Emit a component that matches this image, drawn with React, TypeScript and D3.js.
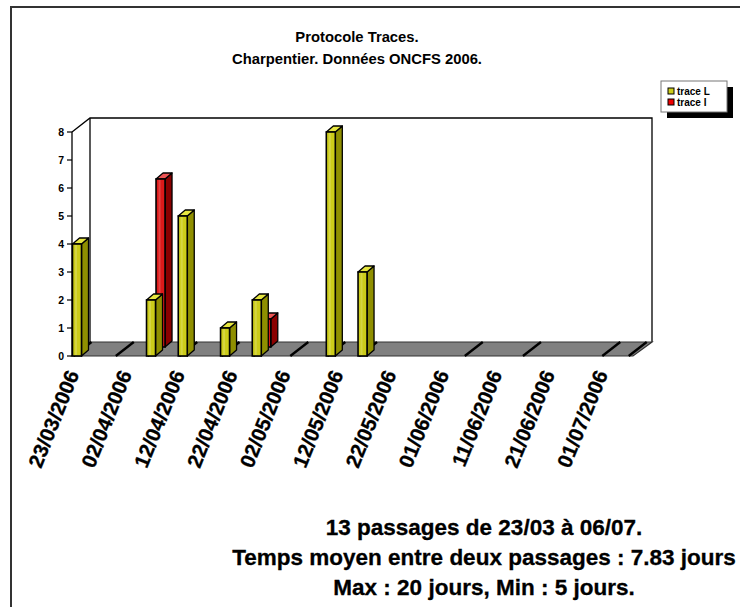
import React from "react";
import * as d3 from "d3";

const passageDates = ["2006-03-23","2006-03-31","2006-04-06","2006-04-12","2006-04-20","2006-04-26","2006-05-03","2006-05-10","2006-05-16","2006-06-05","2006-06-16","2006-07-01","2006-07-06"];
const traceL = [4, 0, 2, 5, 1, 2, 0, 8, 3, 0, 0, 0, 0];
const traceI = [0, 0, 6, 0, 0, 1, 0, 0, 0, 0, 0, 0, 0];
const tickDates = ["23/03/2006","02/04/2006","12/04/2006","22/04/2006","02/05/2006","12/05/2006","22/05/2006","01/06/2006","11/06/2006","21/06/2006","01/07/2006"];
const yTicks = [0, 1, 2, 3, 4, 5, 6, 7, 8];
const seriesNames = ["trace L", "trace I"];
const titleLines = ["Protocole Traces.", "Charpentier. Données ONCFS 2006."];
const footerLines = ["13 passages de 23/03 à 06/07.", "Temps moyen entre deux passages : 7.83 jours", "Max : 20 jours, Min : 5 jours."];

const parse = d3.timeParse("%Y-%m-%d");
const parseTick = d3.timeParse("%d/%m/%Y");

const FONT = "'Liberation Sans', Arial, Helvetica, sans-serif";
const YEL = "#cccc1a", YEL_SIDE = "#8f8f00", YEL_TOP = "#e6e640";
const RED = "#dd1a1a", RED_SIDE = "#8a0000", RED_TOP = "#ee5555";

export default function App() {
  const x = d3.scaleTime().domain([parse("2006-03-23")!, parse("2006-07-07")!]).range([72.5, 633]);
  const y = d3.scaleLinear().domain([0, 8]).range([356, 132]);
  const DX = 18, DY = -14; // floor depth
  const bw = 9; // bar width
  const bdx = 7, bdy = -6; // bar depth

  const bar = (x0: number, base: number, v: number, front: string, side: string, top: string, key: string) => {
    const yt = base - (y(0) - y(v));
    return (
      <g key={key}>
        <polygon points={`${x0 + bw},${base} ${x0 + bw + bdx},${base + bdy} ${x0 + bw + bdx},${yt + bdy} ${x0 + bw},${yt}`} fill={side} stroke="#000" strokeWidth={1.3} strokeLinejoin="round" />
        <polygon points={`${x0},${yt} ${x0 + bw},${yt} ${x0 + bw + bdx},${yt + bdy} ${x0 + bdx},${yt + bdy}`} fill={top} stroke="#000" strokeWidth={1.3} strokeLinejoin="round" />
        <rect x={x0} y={yt} width={bw} height={base - yt} fill={front} stroke="#000" strokeWidth={1.6} />
        <rect x={x0 + 2.5} y={yt + 1} width={2} height={base - yt - 2} fill="#ffffff" opacity={0.18} />
      </g>
    );
  };

  const footY = [535, 565, 595];

  return (
    <svg width={740} height={607} style={{ position: "absolute", left: 0, top: 0, background: "#fff" }}>
      {/* outer frame */}
      <path d="M11,607 L11,7 L740,7" fill="none" stroke="#333" strokeWidth={2} />
      {/* titles */}
      {titleLines.map((t, i) => (
        <text key={t} x={357} y={42 + i * 22} textAnchor="middle" fontFamily={FONT} fontWeight="bold" fontSize={14.8}>{t}</text>
      ))}
      {/* back walls */}
      <path d={`M72,${y(8)} L${72 + DX},${y(8) + DY} L652,${y(8) + DY} L652,${y(0) + DY}`} fill="none" stroke="#000" strokeWidth={1.3} />
      <line x1={72 + DX} y1={y(8) + DY} x2={72 + DX} y2={y(0) + DY} stroke="#000" strokeWidth={1.3} />
      {/* floor */}
      <polygon points={`72,${y(0)} 633,${y(0)} 652,${y(0) + DY} ${72 + DX},${y(0) + DY}`} fill="#808080" stroke="#333" strokeWidth={1.2} />
      {/* y axis */}
      <line x1={72} y1={y(0)} x2={72} y2={y(8)} stroke="#000" strokeWidth={1.3} />
      {yTicks.map(t => (
        <g key={t}>
          <line x1={67} x2={72} y1={y(t)} y2={y(t)} stroke="#000" strokeWidth={1.2} />
          <text x={64} y={y(t) + 4} textAnchor="end" fontFamily={FONT} fontWeight="bold" fontSize={10.5}>{t}</text>
        </g>
      ))}
      {/* base diagonals for each passage */}
      {passageDates.map((d, i) => {
        const x0 = x(parse(d)!);
        return <line key={"d" + i} x1={x0 + 1} y1={y(0)} x2={x0 + 1 + DX} y2={y(0) + DY} stroke="#000" strokeWidth={2.4} />;
      })}
      {/* red series (deeper) */}
      {passageDates.map((d, i) => traceI[i] > 0 ? bar(x(parse(d)!) + 9.5, y(0) - 9, traceI[i], RED, RED_SIDE, RED_TOP, "r" + i) : null)}
      {/* yellow series */}
      {passageDates.map((d, i) => traceL[i] > 0 ? bar(x(parse(d)!), y(0), traceL[i], YEL, YEL_SIDE, YEL_TOP, "y" + i) : null)}
      {/* x tick labels */}
      {tickDates.map(t => {
        const xx = x(parseTick(t)!) + 7;
        return (
          <text key={t} transform={`translate(${xx},374) rotate(-68)`} textAnchor="end" fontFamily={FONT} fontWeight="bold" fontSize={20.5} stroke="#000" strokeWidth={0.3}>{t}</text>
        );
      })}
      {/* legend */}
      <rect x={667} y={87} width={66} height={31} fill="#000" />
      <rect x={661} y={81} width={66} height={31} fill="#fff" stroke="#777" strokeWidth={1} />
      {seriesNames.map((s, i) => (
        <g key={s}>
          <rect x={668} y={88 + i * 11} width={6} height={6} fill={i === 0 ? YEL : "#ee0000"} stroke="#000" strokeWidth={1} />
          <text x={677} y={95 + i * 11} fontFamily={FONT} fontWeight="bold" fontSize={10}>{s}</text>
        </g>
      ))}
      {/* footer */}
      {footerLines.map((t, i) => (
        <text key={t} x={484} y={footY[i]} textAnchor="middle" fontFamily={FONT} fontWeight="bold" fontSize={22.5} stroke="#000" strokeWidth={0.3}>{t}</text>
      ))}
    </svg>
  );
}
